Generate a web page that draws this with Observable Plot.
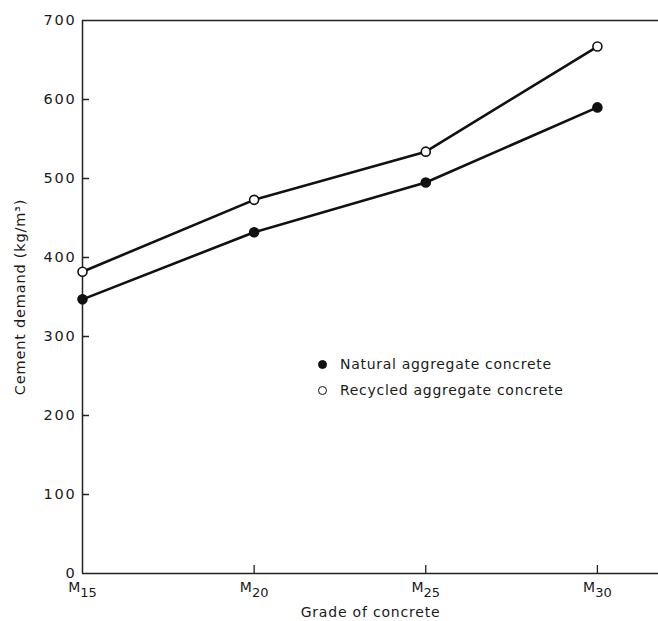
<!DOCTYPE html>
<html><head><meta charset="utf-8">
<script src="https://cdn.jsdelivr.net/npm/d3@7"></script>
<script src="https://cdn.jsdelivr.net/npm/@observablehq/plot@0.6"></script>
<style>
body{margin:0;background:#fff;}
#wrap{position:relative;width:658px;height:621px;font-family:"DejaVu Sans",sans-serif;color:#222;}
#legend{position:absolute;left:318px;top:351px;font-size:14px;letter-spacing:0.7px;line-height:26px;color:#1a1a1a;}
#legend .row{display:flex;align-items:center;}
#legend .sym{display:inline-block;width:9px;height:9px;border-radius:50%;border:1.5px solid #111;margin-right:13px;box-sizing:border-box;}
svg [aria-label="y-axis tick label"] text{letter-spacing:1.8px;}
svg [aria-label="y-axis label"] text, svg [aria-label="x-axis label"] text{letter-spacing:0.8px;}
</style>
</head><body>
<div id="wrap"></div>
<script>
const grades = [15, 20, 25, 30];
const gradeLabels = ["M15", "M20", "M25", "M30"];
const natural = [347, 432, 495, 590];
const recycled = [382, 473, 534, 667];
const seriesNames = ["Natural aggregate concrete", "Recycled aggregate concrete"];
const yTicks = [0, 100, 200, 300, 400, 500, 600, 700];

const rows = [];
grades.forEach((g, i) => {
  rows.push({grade: g, value: natural[i], series: seriesNames[0]});
  rows.push({grade: g, value: recycled[i], series: seriesNames[1]});
});

const W = 658, H = 621, mL = 82, mR = 0, mT = 20, mB = 48;
const plotW = W - mL - mR, plotH = H - mT - mB;

const chart = Plot.plot({
  width: W,
  height: H,
  marginLeft: mL,
  marginRight: mR,
  marginTop: mT,
  marginBottom: mB,
  style: {fontFamily: "DejaVu Sans, sans-serif", fontSize: "14px", color: "#1a1a1a"},
  x: {domain: [15, 31.78]},
  y: {domain: [0, 700]},
  marks: [
    Plot.ruleY([0, 700], {stroke: "#222", strokeWidth: 1.5}),
    Plot.ruleX([15], {stroke: "#222", strokeWidth: 1.5}),
    // inward tick marks
    Plot.tickY(yTicks.filter(d => d > 0 && d < 700), {y: d => d, stroke: "#222", strokeWidth: 1.5, insetRight: plotW - 7}),
    Plot.tickX(grades.slice(1), {x: d => d, stroke: "#222", strokeWidth: 1.3, insetTop: plotH - 8}),
    Plot.axisY({ticks: yTicks, tickSize: 0, tickPadding: 6, fontSize: 14.5,
      label: "Cement demand (kg/m³)", labelAnchor: "center", labelArrow: "none", labelOffset: 68}),
    Plot.axisX({ticks: grades, tickSize: 0, tickPadding: 9, fontSize: 14,
      tickFormat: (d) => gradeLabels[grades.indexOf(d)],
      label: "Grade of concrete", labelAnchor: "center", labelArrow: "none", labelOffset: 43}),
    Plot.line(rows, {x: "grade", y: "value", z: "series", stroke: "#111", strokeWidth: 2.6}),
    Plot.dot(rows, {x: "grade", y: "value", r: 4.5, stroke: "#111", strokeWidth: 1.6,
      fill: (d) => d.series === seriesNames[0] ? "#111" : "#fff"})
  ]
});
const wrap = document.getElementById("wrap");
wrap.appendChild(chart);

// subscript grade numbers: M + lowered digits
chart.querySelectorAll('[aria-label="x-axis tick label"] text').forEach((t) => {
  const s = t.textContent;
  if (s && s[0] === "M") {
    t.textContent = "";
    const m = document.createElementNS("http://www.w3.org/2000/svg", "tspan");
    m.textContent = "M";
    const sub = document.createElementNS("http://www.w3.org/2000/svg", "tspan");
    sub.textContent = s.slice(1);
    sub.setAttribute("dy", "5");
    sub.setAttribute("font-size", "13");
    t.appendChild(m);
    t.appendChild(sub);
  }
});

const legend = document.createElement("div");
legend.id = "legend";
seriesNames.forEach((name, i) => {
  const row = document.createElement("div");
  row.className = "row";
  const sym = document.createElement("span");
  sym.className = "sym";
  sym.style.background = i === 0 ? "#111" : "#fff";
  row.appendChild(sym);
  row.appendChild(document.createTextNode(name));
  legend.appendChild(row);
});
wrap.appendChild(legend);
</script>
</body></html>
